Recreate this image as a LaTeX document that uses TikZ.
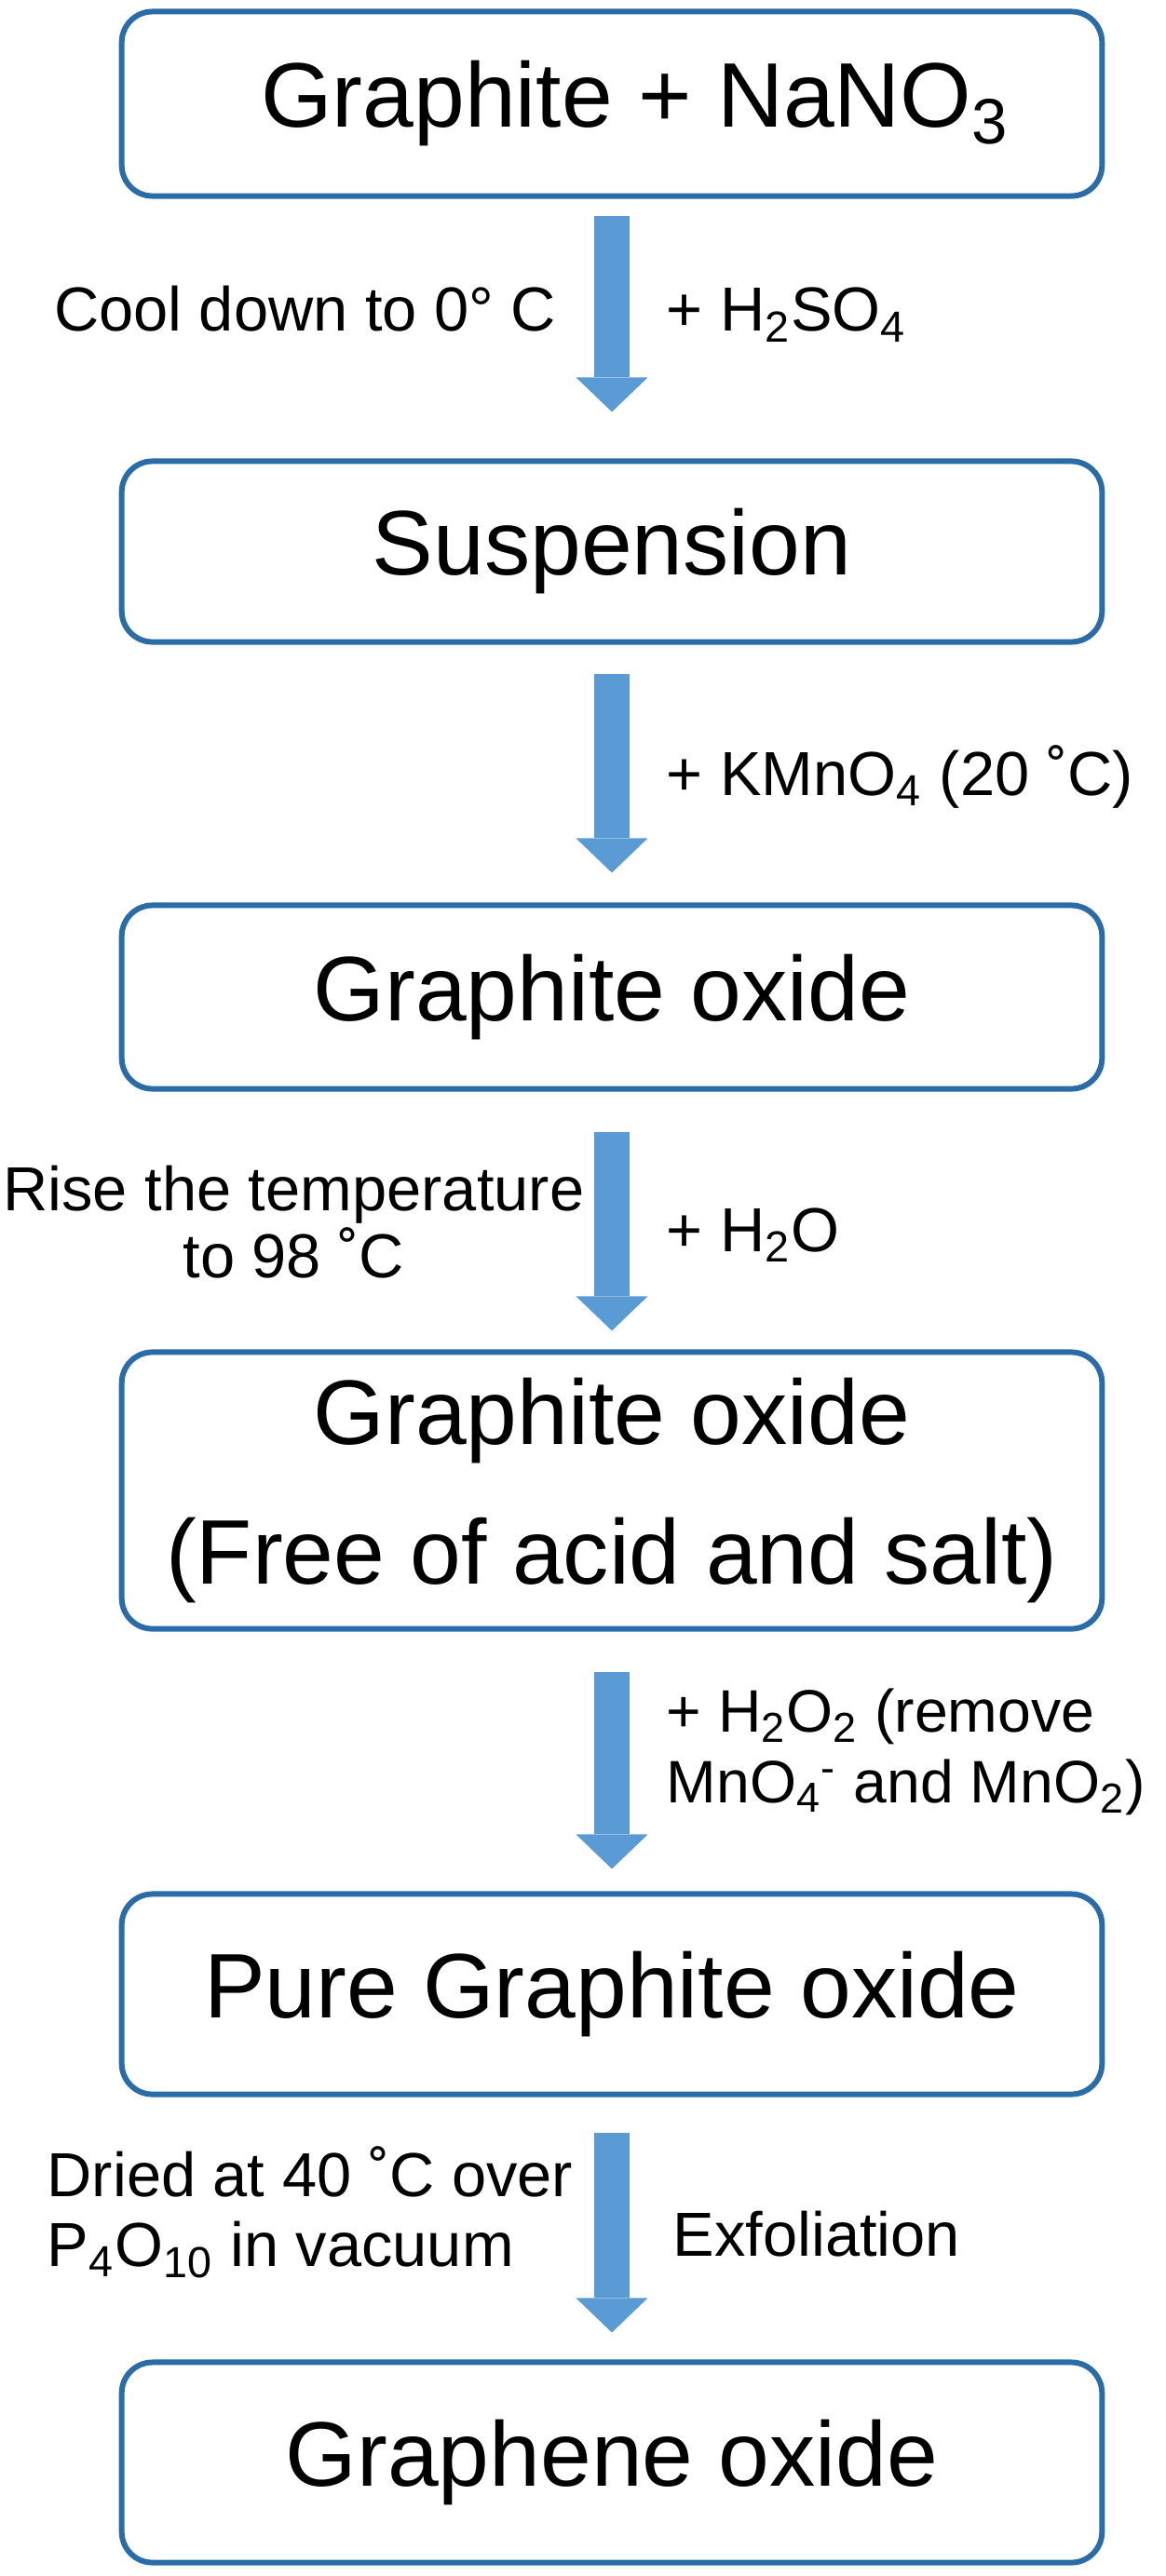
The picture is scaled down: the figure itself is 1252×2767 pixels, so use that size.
\documentclass[tikz,border=0pt]{standalone}
\usepackage{fontspec}
\setmainfont{Liberation Sans}
\usepackage{xcolor}
\usetikzlibrary{arrows.meta}

\definecolor{boxline}{HTML}{2A6CA8}
\definecolor{arrowfill}{HTML}{5B9BD5}

\begin{document}
\begin{tikzpicture}[
  x=0.01cm,
  y=-0.01cm,
  stage/.style={rectangle, rounded corners=0.33cm, draw=boxline, line width=1.7pt, fill=white, minimum width=10.52cm, align=center, inner sep=0pt, font=\fontsize{28}{42.7}\selectfont},
  flow/.style={draw=arrowfill, line width=0.38cm, -{Triangle[width=0.77cm, length=0.37cm, line width=0pt]}},
  note/.style={inner sep=0pt, font=\fontsize{19}{20.5}\selectfont}
]

\useasboundingbox (0,0) rectangle (1252,2767);

% Process stages
\node[stage, minimum height=1.98cm] (gnano) at (657,111.5) {\hspace*{0.5cm}Graphite + NaNO\textsubscript{3}};
\node[stage, minimum height=1.94cm] (susp) at (657,592.5) {Suspension};
\node[stage, minimum height=1.97cm] (gox) at (657,1071) {Graphite oxide};
\node[stage, minimum height=2.97cm] (goxfree) at (657,1601) {Graphite oxide\\(Free of acid and salt)};
\node[stage, minimum height=2.15cm] (pure) at (657,2142) {Pure Graphite oxide};
\node[stage, minimum height=2.15cm] (geneox) at (657,2645) {Graphene oxide};

% Block arrows between stages
\draw[flow, shorten <=0.18cm, shorten >=0.5cm] (gnano) -- (susp);
\draw[flow, shorten <=0.31cm, shorten >=0.32cm] (susp) -- (gox);
\draw[flow, shorten <=0.43cm, shorten >=0.2cm] (gox) -- (goxfree);
\draw[flow, shorten <=0.43cm, shorten >=0.24cm] (goxfree) -- (pure);
\draw[flow, shorten <=0.38cm, shorten >=0.29cm] (pure) -- (geneox);

% Conditions (left) and reagents (right)
\node[note, anchor=base east] (cool) at (598,356) {Cool down to 0° C};
\node[note, anchor=base west] (sulf) at (715,356) {+ H\textsubscript{2}SO\textsubscript{4}};
\node[note, anchor=base west] (perm) at (715,854) {+ KMnO\textsubscript{4} (20 ˚C)};
\node[note, anchor=east, align=center] (heat) at (628,1313) {Rise the temperature\\to 98 ˚C};
\node[note, anchor=base west] (water) at (715,1344) {+ H\textsubscript{2}O};
\node[note, anchor=west, align=left, font=\fontsize{18.3}{21.5}\selectfont] (perox) at (715,1882) {+ H\textsubscript{2}O\textsubscript{2} (remove\\MnO\textsubscript{4}\textsuperscript{-} and MnO\textsubscript{2})};
\node[note, anchor=west, align=left, font=\fontsize{19}{21.5}\selectfont] (dry) at (50,2376) {Dried at 40 ˚C over\\P\textsubscript{4}O\textsubscript{10} in vacuum};
\node[note, anchor=base west] (exfol) at (722,2423) {Exfoliation};

\end{tikzpicture}
\end{document}
